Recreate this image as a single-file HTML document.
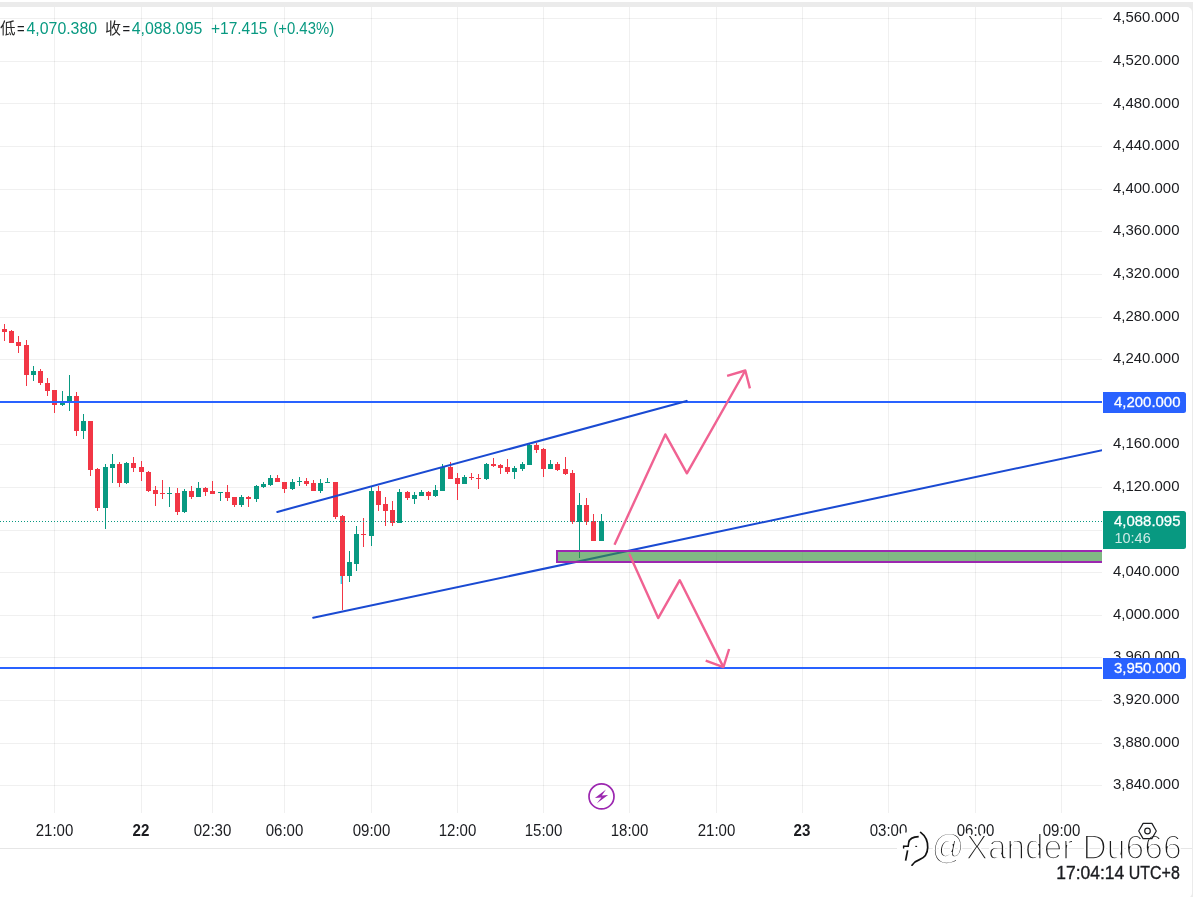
<!DOCTYPE html>
<html lang="zh"><head><meta charset="utf-8"><title>chart</title>
<style>
html,body{margin:0;padding:0;background:#fff;}
body{width:1193px;height:897px;overflow:hidden;position:relative;}
#bg{position:absolute;left:0;top:2px;width:1193px;height:895px;background:#EBEBEB;}
#card{position:absolute;left:-6px;top:7px;width:1198px;height:891px;background:#fff;border-radius:5px;}
svg{position:absolute;left:0;top:0;}
</style></head><body>
<div id="bg"></div><div id="card"></div>
<svg width="1193" height="897" viewBox="0 0 1193 897">
<defs><clipPath id="cp"><rect x="0" y="7" width="1102" height="806"/></clipPath></defs>
<rect x="54" y="7" width="1" height="806" fill="#000" fill-opacity="0.058"/>
<rect x="141" y="7" width="1" height="806" fill="#000" fill-opacity="0.058"/>
<rect x="212" y="7" width="1" height="806" fill="#000" fill-opacity="0.058"/>
<rect x="284" y="7" width="1" height="806" fill="#000" fill-opacity="0.058"/>
<rect x="371" y="7" width="1" height="806" fill="#000" fill-opacity="0.058"/>
<rect x="457" y="7" width="1" height="806" fill="#000" fill-opacity="0.058"/>
<rect x="543" y="7" width="1" height="806" fill="#000" fill-opacity="0.058"/>
<rect x="629" y="7" width="1" height="806" fill="#000" fill-opacity="0.058"/>
<rect x="716" y="7" width="1" height="806" fill="#000" fill-opacity="0.058"/>
<rect x="802" y="7" width="1" height="806" fill="#000" fill-opacity="0.058"/>
<rect x="888" y="7" width="1" height="806" fill="#000" fill-opacity="0.058"/>
<rect x="975" y="7" width="1" height="806" fill="#000" fill-opacity="0.058"/>
<rect x="1061" y="7" width="1" height="806" fill="#000" fill-opacity="0.058"/>
<rect x="0" y="18" width="1102" height="1" fill="#000" fill-opacity="0.058"/>
<rect x="0" y="61" width="1102" height="1" fill="#000" fill-opacity="0.058"/>
<rect x="0" y="103" width="1102" height="1" fill="#000" fill-opacity="0.058"/>
<rect x="0" y="146" width="1102" height="1" fill="#000" fill-opacity="0.058"/>
<rect x="0" y="189" width="1102" height="1" fill="#000" fill-opacity="0.058"/>
<rect x="0" y="231" width="1102" height="1" fill="#000" fill-opacity="0.058"/>
<rect x="0" y="274" width="1102" height="1" fill="#000" fill-opacity="0.058"/>
<rect x="0" y="317" width="1102" height="1" fill="#000" fill-opacity="0.058"/>
<rect x="0" y="359" width="1102" height="1" fill="#000" fill-opacity="0.058"/>
<rect x="0" y="402" width="1102" height="1" fill="#000" fill-opacity="0.058"/>
<rect x="0" y="444" width="1102" height="1" fill="#000" fill-opacity="0.058"/>
<rect x="0" y="487" width="1102" height="1" fill="#000" fill-opacity="0.058"/>
<rect x="0" y="530" width="1102" height="1" fill="#000" fill-opacity="0.058"/>
<rect x="0" y="572" width="1102" height="1" fill="#000" fill-opacity="0.058"/>
<rect x="0" y="615" width="1102" height="1" fill="#000" fill-opacity="0.058"/>
<rect x="0" y="657" width="1102" height="1" fill="#000" fill-opacity="0.058"/>
<rect x="0" y="700" width="1102" height="1" fill="#000" fill-opacity="0.058"/>
<rect x="0" y="743" width="1102" height="1" fill="#000" fill-opacity="0.058"/>
<rect x="0" y="785" width="1102" height="1" fill="#000" fill-opacity="0.058"/>
<rect x="0" y="848" width="1192" height="1" fill="#E6E6E6"/>
<g clip-path="url(#cp)">
<rect x="4" y="324" width="1" height="17" fill="#F23645"/>
<rect x="2" y="329" width="5" height="3" fill="#F23645"/>
<rect x="11" y="330" width="1" height="13" fill="#F23645"/>
<rect x="9" y="331" width="5" height="12" fill="#F23645"/>
<rect x="18" y="336" width="1" height="17" fill="#F23645"/>
<rect x="16" y="342" width="5" height="4" fill="#F23645"/>
<rect x="26" y="340" width="1" height="46" fill="#F23645"/>
<rect x="24" y="345" width="5" height="30" fill="#F23645"/>
<rect x="33" y="366" width="1" height="15" fill="#089981"/>
<rect x="31" y="371" width="5" height="4" fill="#089981"/>
<rect x="40" y="369" width="1" height="16" fill="#F23645"/>
<rect x="38" y="371" width="5" height="12" fill="#F23645"/>
<rect x="47" y="378" width="1" height="18" fill="#F23645"/>
<rect x="45" y="383" width="5" height="8" fill="#F23645"/>
<rect x="54" y="390" width="1" height="23" fill="#F23645"/>
<rect x="52" y="390" width="5" height="15" fill="#F23645"/>
<rect x="62" y="391" width="1" height="15" fill="#089981"/>
<rect x="60" y="401" width="5" height="4" fill="#089981"/>
<rect x="69" y="375" width="1" height="36" fill="#089981"/>
<rect x="67" y="396" width="5" height="6" fill="#089981"/>
<rect x="76" y="392" width="1" height="44" fill="#F23645"/>
<rect x="74" y="396" width="5" height="35" fill="#F23645"/>
<rect x="83" y="414" width="1" height="25" fill="#089981"/>
<rect x="81" y="421" width="5" height="10" fill="#089981"/>
<rect x="90" y="421" width="1" height="55" fill="#F23645"/>
<rect x="88" y="421" width="5" height="49" fill="#F23645"/>
<rect x="97" y="468" width="1" height="43" fill="#F23645"/>
<rect x="95" y="469" width="5" height="39" fill="#F23645"/>
<rect x="105" y="464" width="1" height="65" fill="#089981"/>
<rect x="103" y="467" width="5" height="41" fill="#089981"/>
<rect x="112" y="454" width="1" height="29" fill="#089981"/>
<rect x="110" y="464" width="5" height="4" fill="#089981"/>
<rect x="119" y="462" width="1" height="25" fill="#F23645"/>
<rect x="117" y="464" width="5" height="19" fill="#F23645"/>
<rect x="126" y="462" width="1" height="22" fill="#089981"/>
<rect x="124" y="463" width="5" height="20" fill="#089981"/>
<rect x="133" y="457" width="1" height="15" fill="#F23645"/>
<rect x="131" y="463" width="5" height="5" fill="#F23645"/>
<rect x="141" y="461" width="1" height="20" fill="#F23645"/>
<rect x="139" y="467" width="5" height="5" fill="#F23645"/>
<rect x="148" y="471" width="1" height="21" fill="#F23645"/>
<rect x="146" y="472" width="5" height="19" fill="#F23645"/>
<rect x="155" y="486" width="1" height="20" fill="#F23645"/>
<rect x="153" y="490" width="5" height="4" fill="#F23645"/>
<rect x="162" y="480" width="1" height="19" fill="#F23645"/>
<rect x="160" y="493" width="5" height="1" fill="#F23645"/>
<rect x="169" y="487" width="1" height="20" fill="#089981"/>
<rect x="167" y="493" width="5" height="1" fill="#089981"/>
<rect x="177" y="488" width="1" height="27" fill="#F23645"/>
<rect x="175" y="493" width="5" height="19" fill="#F23645"/>
<rect x="184" y="489" width="1" height="24" fill="#089981"/>
<rect x="182" y="491" width="5" height="21" fill="#089981"/>
<rect x="191" y="486" width="1" height="13" fill="#F23645"/>
<rect x="189" y="491" width="5" height="6" fill="#F23645"/>
<rect x="198" y="482" width="1" height="15" fill="#089981"/>
<rect x="196" y="488" width="5" height="9" fill="#089981"/>
<rect x="205" y="487" width="1" height="9" fill="#F23645"/>
<rect x="203" y="488" width="5" height="4" fill="#F23645"/>
<rect x="212" y="481" width="1" height="13" fill="#F23645"/>
<rect x="210" y="491" width="5" height="3" fill="#F23645"/>
<rect x="220" y="492" width="1" height="9" fill="#089981"/>
<rect x="218" y="492" width="5" height="1" fill="#089981"/>
<rect x="227" y="485" width="1" height="16" fill="#F23645"/>
<rect x="225" y="492" width="5" height="6" fill="#F23645"/>
<rect x="234" y="497" width="1" height="10" fill="#F23645"/>
<rect x="232" y="497" width="5" height="8" fill="#F23645"/>
<rect x="241" y="495" width="1" height="12" fill="#089981"/>
<rect x="239" y="497" width="5" height="8" fill="#089981"/>
<rect x="248" y="496" width="1" height="11" fill="#F23645"/>
<rect x="246" y="497" width="5" height="2" fill="#F23645"/>
<rect x="256" y="485" width="1" height="17" fill="#089981"/>
<rect x="254" y="486" width="5" height="13" fill="#089981"/>
<rect x="263" y="482" width="1" height="6" fill="#089981"/>
<rect x="261" y="484" width="5" height="3" fill="#089981"/>
<rect x="270" y="475" width="1" height="11" fill="#089981"/>
<rect x="268" y="478" width="5" height="7" fill="#089981"/>
<rect x="277" y="475" width="1" height="7" fill="#F23645"/>
<rect x="275" y="478" width="5" height="4" fill="#F23645"/>
<rect x="284" y="482" width="1" height="11" fill="#F23645"/>
<rect x="282" y="482" width="5" height="7" fill="#F23645"/>
<rect x="292" y="479" width="1" height="11" fill="#089981"/>
<rect x="290" y="482" width="5" height="7" fill="#089981"/>
<rect x="299" y="477" width="1" height="9" fill="#089981"/>
<rect x="297" y="481" width="5" height="1" fill="#089981"/>
<rect x="306" y="478" width="1" height="8" fill="#F23645"/>
<rect x="304" y="481" width="5" height="3" fill="#F23645"/>
<rect x="313" y="480" width="1" height="11" fill="#F23645"/>
<rect x="311" y="483" width="5" height="8" fill="#F23645"/>
<rect x="320" y="479" width="1" height="14" fill="#089981"/>
<rect x="318" y="483" width="5" height="8" fill="#089981"/>
<rect x="327" y="478" width="1" height="5" fill="#089981"/>
<rect x="325" y="482" width="5" height="1" fill="#089981"/>
<rect x="335" y="482" width="1" height="37" fill="#F23645"/>
<rect x="333" y="482" width="5" height="35" fill="#F23645"/>
<rect x="342" y="515" width="1" height="95" fill="#F23645"/>
<rect x="340" y="516" width="5" height="60" fill="#F23645"/>
<rect x="349" y="551" width="1" height="31" fill="#089981"/>
<rect x="347" y="562" width="5" height="14" fill="#089981"/>
<rect x="356" y="526" width="1" height="45" fill="#089981"/>
<rect x="354" y="534" width="5" height="30" fill="#089981"/>
<rect x="363" y="518" width="1" height="29" fill="#F23645"/>
<rect x="361" y="534" width="5" height="1" fill="#F23645"/>
<rect x="371" y="487" width="1" height="59" fill="#089981"/>
<rect x="369" y="491" width="5" height="45" fill="#089981"/>
<rect x="378" y="486" width="1" height="25" fill="#F23645"/>
<rect x="376" y="491" width="5" height="14" fill="#F23645"/>
<rect x="385" y="497" width="1" height="29" fill="#F23645"/>
<rect x="383" y="504" width="5" height="7" fill="#F23645"/>
<rect x="392" y="501" width="1" height="25" fill="#F23645"/>
<rect x="390" y="510" width="5" height="13" fill="#F23645"/>
<rect x="399" y="489" width="1" height="34" fill="#089981"/>
<rect x="397" y="492" width="5" height="31" fill="#089981"/>
<rect x="407" y="491" width="1" height="9" fill="#F23645"/>
<rect x="405" y="492" width="5" height="6" fill="#F23645"/>
<rect x="414" y="492" width="1" height="12" fill="#089981"/>
<rect x="412" y="495" width="5" height="4" fill="#089981"/>
<rect x="421" y="490" width="1" height="6" fill="#089981"/>
<rect x="419" y="492" width="5" height="4" fill="#089981"/>
<rect x="428" y="491" width="1" height="9" fill="#F23645"/>
<rect x="426" y="492" width="5" height="4" fill="#F23645"/>
<rect x="435" y="485" width="1" height="12" fill="#089981"/>
<rect x="433" y="490" width="5" height="6" fill="#089981"/>
<rect x="442" y="464" width="1" height="27" fill="#089981"/>
<rect x="440" y="467" width="5" height="24" fill="#089981"/>
<rect x="450" y="462" width="1" height="17" fill="#F23645"/>
<rect x="448" y="467" width="5" height="12" fill="#F23645"/>
<rect x="457" y="473" width="1" height="27" fill="#F23645"/>
<rect x="455" y="478" width="5" height="6" fill="#F23645"/>
<rect x="464" y="475" width="1" height="9" fill="#089981"/>
<rect x="462" y="477" width="5" height="7" fill="#089981"/>
<rect x="471" y="473" width="1" height="7" fill="#F23645"/>
<rect x="469" y="477" width="5" height="1" fill="#F23645"/>
<rect x="478" y="474" width="1" height="15" fill="#F23645"/>
<rect x="476" y="478" width="5" height="1" fill="#F23645"/>
<rect x="486" y="463" width="1" height="17" fill="#089981"/>
<rect x="484" y="464" width="5" height="15" fill="#089981"/>
<rect x="493" y="458" width="1" height="9" fill="#F23645"/>
<rect x="491" y="464" width="5" height="2" fill="#F23645"/>
<rect x="500" y="464" width="1" height="10" fill="#F23645"/>
<rect x="498" y="465" width="5" height="3" fill="#F23645"/>
<rect x="507" y="459" width="1" height="15" fill="#F23645"/>
<rect x="505" y="467" width="5" height="5" fill="#F23645"/>
<rect x="514" y="466" width="1" height="13" fill="#089981"/>
<rect x="512" y="468" width="5" height="4" fill="#089981"/>
<rect x="522" y="462" width="1" height="9" fill="#089981"/>
<rect x="520" y="464" width="5" height="5" fill="#089981"/>
<rect x="529" y="443" width="1" height="22" fill="#089981"/>
<rect x="527" y="445" width="5" height="20" fill="#089981"/>
<rect x="536" y="443" width="1" height="10" fill="#F23645"/>
<rect x="534" y="445" width="5" height="5" fill="#F23645"/>
<rect x="543" y="448" width="1" height="29" fill="#F23645"/>
<rect x="541" y="449" width="5" height="20" fill="#F23645"/>
<rect x="550" y="460" width="1" height="9" fill="#089981"/>
<rect x="548" y="464" width="5" height="5" fill="#089981"/>
<rect x="557" y="462" width="1" height="9" fill="#F23645"/>
<rect x="555" y="464" width="5" height="6" fill="#F23645"/>
<rect x="565" y="457" width="1" height="18" fill="#F23645"/>
<rect x="563" y="469" width="5" height="5" fill="#F23645"/>
<rect x="572" y="470" width="1" height="54" fill="#F23645"/>
<rect x="570" y="473" width="5" height="49" fill="#F23645"/>
<rect x="579" y="493" width="1" height="65" fill="#089981"/>
<rect x="577" y="505" width="5" height="17" fill="#089981"/>
<rect x="586" y="498" width="1" height="27" fill="#F23645"/>
<rect x="584" y="505" width="5" height="17" fill="#F23645"/>
<rect x="593" y="514" width="1" height="27" fill="#F23645"/>
<rect x="591" y="521" width="5" height="20" fill="#F23645"/>
<rect x="601" y="514" width="1" height="27" fill="#089981"/>
<rect x="599" y="521" width="5" height="20" fill="#089981"/>
<line x1="0" y1="521.5" x2="1102" y2="521.5" stroke="#089981" stroke-width="1" stroke-dasharray="1 2"/>
<rect x="340.6" y="576" width="1.4" height="8" fill="#35D2EC"/>
<rect x="0" y="401" width="1102" height="2" fill="#2962FF"/>
<rect x="0" y="667" width="1102" height="2" fill="#2962FF"/>
<line x1="277.3" y1="511.9" x2="686.7" y2="400.9" stroke="#1A4AD2" stroke-width="2.05" stroke-linecap="round"/>
<line x1="313.2" y1="617.8" x2="1110" y2="448.5" stroke="#1A4AD2" stroke-width="2.05" stroke-linecap="round"/>
<rect x="557" y="551" width="560" height="11" fill="rgba(56,142,60,0.63)" stroke="#9C27B0" stroke-width="2"/>
<polyline points="614.5,544.8 665.3,434.4 686.9,473.3 745.3,370.5" fill="none" stroke="#F06292" stroke-width="2.4" stroke-linejoin="round"/>
<polyline points="727.1,375.8 745.3,370.5 749.9,388.4" fill="none" stroke="#F06292" stroke-width="2.4" stroke-linejoin="round"/>
<polyline points="629.3,553.9 658.2,618.1 679.8,580.2 723.4,667.1" fill="none" stroke="#F06292" stroke-width="2.4" stroke-linejoin="round"/>
<polyline points="705.7,660.7 723.4,667.1 729.1,649" fill="none" stroke="#F06292" stroke-width="2.4" stroke-linejoin="round"/>
</g>
<circle cx="601.5" cy="796.4" r="12.5" fill="#fff" stroke="#9C27B0" stroke-width="1.7"/>
<polygon points="606,789.5 594.9,798 601.4,797.5 596.9,803.3 608.1,795 601.8,795.6" fill="#9C27B0"/>
<text x="1113" y="22.29" font-family="Liberation Sans, sans-serif" font-size="15.5" fill="#1b1c20" textLength="66.5" lengthAdjust="spacingAndGlyphs">4,560.000</text>
<text x="1113" y="64.90" font-family="Liberation Sans, sans-serif" font-size="15.5" fill="#1b1c20" textLength="66.5" lengthAdjust="spacingAndGlyphs">4,520.000</text>
<text x="1113" y="107.52" font-family="Liberation Sans, sans-serif" font-size="15.5" fill="#1b1c20" textLength="66.5" lengthAdjust="spacingAndGlyphs">4,480.000</text>
<text x="1113" y="150.13" font-family="Liberation Sans, sans-serif" font-size="15.5" fill="#1b1c20" textLength="66.5" lengthAdjust="spacingAndGlyphs">4,440.000</text>
<text x="1113" y="192.74" font-family="Liberation Sans, sans-serif" font-size="15.5" fill="#1b1c20" textLength="66.5" lengthAdjust="spacingAndGlyphs">4,400.000</text>
<text x="1113" y="235.35" font-family="Liberation Sans, sans-serif" font-size="15.5" fill="#1b1c20" textLength="66.5" lengthAdjust="spacingAndGlyphs">4,360.000</text>
<text x="1113" y="277.96" font-family="Liberation Sans, sans-serif" font-size="15.5" fill="#1b1c20" textLength="66.5" lengthAdjust="spacingAndGlyphs">4,320.000</text>
<text x="1113" y="320.58" font-family="Liberation Sans, sans-serif" font-size="15.5" fill="#1b1c20" textLength="66.5" lengthAdjust="spacingAndGlyphs">4,280.000</text>
<text x="1113" y="363.19" font-family="Liberation Sans, sans-serif" font-size="15.5" fill="#1b1c20" textLength="66.5" lengthAdjust="spacingAndGlyphs">4,240.000</text>
<text x="1113" y="448.41" font-family="Liberation Sans, sans-serif" font-size="15.5" fill="#1b1c20" textLength="66.5" lengthAdjust="spacingAndGlyphs">4,160.000</text>
<text x="1113" y="491.02" font-family="Liberation Sans, sans-serif" font-size="15.5" fill="#1b1c20" textLength="66.5" lengthAdjust="spacingAndGlyphs">4,120.000</text>
<text x="1113" y="533.64" font-family="Liberation Sans, sans-serif" font-size="15.5" fill="#1b1c20" textLength="66.5" lengthAdjust="spacingAndGlyphs">4,080.000</text>
<text x="1113" y="576.25" font-family="Liberation Sans, sans-serif" font-size="15.5" fill="#1b1c20" textLength="66.5" lengthAdjust="spacingAndGlyphs">4,040.000</text>
<text x="1113" y="618.86" font-family="Liberation Sans, sans-serif" font-size="15.5" fill="#1b1c20" textLength="66.5" lengthAdjust="spacingAndGlyphs">4,000.000</text>
<text x="1113" y="661.47" font-family="Liberation Sans, sans-serif" font-size="15.5" fill="#1b1c20" textLength="66.5" lengthAdjust="spacingAndGlyphs">3,960.000</text>
<text x="1113" y="704.08" font-family="Liberation Sans, sans-serif" font-size="15.5" fill="#1b1c20" textLength="66.5" lengthAdjust="spacingAndGlyphs">3,920.000</text>
<text x="1113" y="746.70" font-family="Liberation Sans, sans-serif" font-size="15.5" fill="#1b1c20" textLength="66.5" lengthAdjust="spacingAndGlyphs">3,880.000</text>
<text x="1113" y="789.31" font-family="Liberation Sans, sans-serif" font-size="15.5" fill="#1b1c20" textLength="66.5" lengthAdjust="spacingAndGlyphs">3,840.000</text>
<path d="M1103 392h80.5a2.5 2.5 0 0 1 2.5 2.5v16a2.5 2.5 0 0 1 -2.5 2.5h-80.5z" fill="#2962FF"/>
<text x="1114" y="407" font-family="Liberation Sans, sans-serif" font-size="15.5" fill="#fff" stroke="#fff" stroke-width="0.3" textLength="66.5" lengthAdjust="spacingAndGlyphs">4,200.000</text>
<path d="M1103 658h80.5a2.5 2.5 0 0 1 2.5 2.5v16a2.5 2.5 0 0 1 -2.5 2.5h-80.5z" fill="#2962FF"/>
<text x="1114" y="673" font-family="Liberation Sans, sans-serif" font-size="15.5" fill="#fff" stroke="#fff" stroke-width="0.3" textLength="66.5" lengthAdjust="spacingAndGlyphs">3,950.000</text>
<path d="M1103 511h80.5a2.5 2.5 0 0 1 2.5 2.5v33a2.5 2.5 0 0 1 -2.5 2.5h-80.5z" fill="#089981"/>
<text x="1114" y="526" font-family="Liberation Sans, sans-serif" font-size="15.5" fill="#fff" stroke="#fff" stroke-width="0.3" textLength="66.5" lengthAdjust="spacingAndGlyphs">4,088.095</text>
<text x="1114.5" y="543" font-family="Liberation Sans, sans-serif" font-size="15" fill="#fff" fill-opacity="0.8" textLength="36.2" lengthAdjust="spacingAndGlyphs">10:46</text>
<text x="54.5" y="836" font-family="Liberation Sans, sans-serif" font-size="16" fill="#1b1c20" text-anchor="middle" textLength="37.6" lengthAdjust="spacingAndGlyphs">21:00</text>
<text x="141" y="836" font-family="Liberation Sans, sans-serif" font-size="16" font-weight="bold" fill="#1b1c20" text-anchor="middle" textLength="16.8" lengthAdjust="spacingAndGlyphs">22</text>
<text x="212.5" y="836" font-family="Liberation Sans, sans-serif" font-size="16" fill="#1b1c20" text-anchor="middle" textLength="37.6" lengthAdjust="spacingAndGlyphs">02:30</text>
<text x="284.5" y="836" font-family="Liberation Sans, sans-serif" font-size="16" fill="#1b1c20" text-anchor="middle" textLength="37.6" lengthAdjust="spacingAndGlyphs">06:00</text>
<text x="371.5" y="836" font-family="Liberation Sans, sans-serif" font-size="16" fill="#1b1c20" text-anchor="middle" textLength="37.6" lengthAdjust="spacingAndGlyphs">09:00</text>
<text x="457.5" y="836" font-family="Liberation Sans, sans-serif" font-size="16" fill="#1b1c20" text-anchor="middle" textLength="37.6" lengthAdjust="spacingAndGlyphs">12:00</text>
<text x="543.5" y="836" font-family="Liberation Sans, sans-serif" font-size="16" fill="#1b1c20" text-anchor="middle" textLength="37.6" lengthAdjust="spacingAndGlyphs">15:00</text>
<text x="629.5" y="836" font-family="Liberation Sans, sans-serif" font-size="16" fill="#1b1c20" text-anchor="middle" textLength="37.6" lengthAdjust="spacingAndGlyphs">18:00</text>
<text x="716.5" y="836" font-family="Liberation Sans, sans-serif" font-size="16" fill="#1b1c20" text-anchor="middle" textLength="37.6" lengthAdjust="spacingAndGlyphs">21:00</text>
<text x="802" y="836" font-family="Liberation Sans, sans-serif" font-size="16" font-weight="bold" fill="#1b1c20" text-anchor="middle" textLength="16.8" lengthAdjust="spacingAndGlyphs">23</text>
<text x="888.5" y="836" font-family="Liberation Sans, sans-serif" font-size="16" fill="#1b1c20" text-anchor="middle" textLength="37.6" lengthAdjust="spacingAndGlyphs">03:00</text>
<text x="975.5" y="836" font-family="Liberation Sans, sans-serif" font-size="16" fill="#1b1c20" text-anchor="middle" textLength="37.6" lengthAdjust="spacingAndGlyphs">06:00</text>
<text x="1061.5" y="836" font-family="Liberation Sans, sans-serif" font-size="16" fill="#1b1c20" text-anchor="middle" textLength="37.6" lengthAdjust="spacingAndGlyphs">09:00</text>
<text font-family="Liberation Sans, Noto Sans CJK SC, sans-serif" font-size="16"><tspan x="0" y="33.6" fill="#2a2a2a" textLength="15.6" lengthAdjust="spacingAndGlyphs">低</tspan><tspan x="17" y="33.6" fill="#1b1c20" textLength="7.6" lengthAdjust="spacingAndGlyphs">=</tspan><tspan x="26.5" y="34" fill="#089981" textLength="70.6" lengthAdjust="spacingAndGlyphs">4,070.380</tspan> <tspan x="105" y="33.6" fill="#2a2a2a" textLength="16" lengthAdjust="spacingAndGlyphs">收</tspan><tspan x="122.6" y="33.6" fill="#1b1c20" textLength="7.6" lengthAdjust="spacingAndGlyphs">=</tspan><tspan x="131.7" y="34" fill="#089981" textLength="70.6" lengthAdjust="spacingAndGlyphs">4,088.095</tspan> <tspan x="211" y="34" fill="#089981" textLength="56.5" lengthAdjust="spacingAndGlyphs">+17.415</tspan> <tspan x="273.3" y="34" fill="#089981" textLength="60.8" lengthAdjust="spacingAndGlyphs">(+0.43%)</tspan></text>
<text y="878.6" font-family="Liberation Sans, sans-serif" font-size="17.5" fill="#1b1c20" stroke="#1b1c20" stroke-width="0.35"><tspan x="1056.3" textLength="68" lengthAdjust="spacingAndGlyphs">17:04:14</tspan> <tspan x="1128.8" textLength="51" lengthAdjust="spacingAndGlyphs">UTC+8</tspan></text>
<path d="M905 832.5h13q9.5 0 9.5 9.5v6q0 9.5 -9.5 10.5h-3l-5 5.5v-5.5h-5q-8 0 -8 -8v-10q0 -8 8 -8z" fill="#fff"/>
<path d="M920.6 832.4C925.6 836 927.9 841 927.7 847.5C927.5 853.5 924.6 857.8 919.5 859.6C916.5 860.6 914.8 861.3 912 865.2" fill="none" stroke="#111" stroke-width="1.7" stroke-linecap="round"/>
<path d="M918.7 836.6C912.5 836.8 909.4 838.6 908.7 842.5L908.2 846.3H903.4" fill="none" stroke="#111" stroke-width="1.6" stroke-linecap="butt"/>
<path d="M903.6 845.6v3" fill="none" stroke="#111" stroke-width="1.4"/>
<path d="M907.6 850.4L905.6 860.6" fill="none" stroke="#111" stroke-width="1.7"/>
<path d="M915.3 846.4h1.8" fill="none" stroke="#111" stroke-width="1.1"/>
<text y="858.3" font-family="Liberation Sans, sans-serif" font-size="35" fill="#fff" stroke="#fff" stroke-width="1.2"><tspan x="930.7" textLength="33.0" lengthAdjust="spacingAndGlyphs">@</tspan><tspan x="965.0" textLength="107.5" lengthAdjust="spacingAndGlyphs">Xander</tspan> <tspan x="1081.8" textLength="99.0" lengthAdjust="spacingAndGlyphs">Du666</tspan></text>
<text y="859" font-family="Liberation Sans, sans-serif" font-size="35" fill="#1c1c1c" stroke="#fff" stroke-width="1.75"><tspan x="931.5" textLength="33.0" lengthAdjust="spacingAndGlyphs">@</tspan><tspan x="965.8" textLength="107.5" lengthAdjust="spacingAndGlyphs">Xander</tspan> <tspan x="1082.6" textLength="99.0" lengthAdjust="spacingAndGlyphs">Du666</tspan></text>
<polygon points="1156.3,831.0 1151.9,838.6 1143.1,838.6 1138.7,831.0 1143.1,823.4 1151.9,823.4" fill="none" stroke="#1b1c20" stroke-width="1.2" stroke-linejoin="round"/>
<circle cx="1147.5" cy="831" r="2.8" fill="none" stroke="#1b1c20" stroke-width="1.2"/>
</svg>
</body></html>
